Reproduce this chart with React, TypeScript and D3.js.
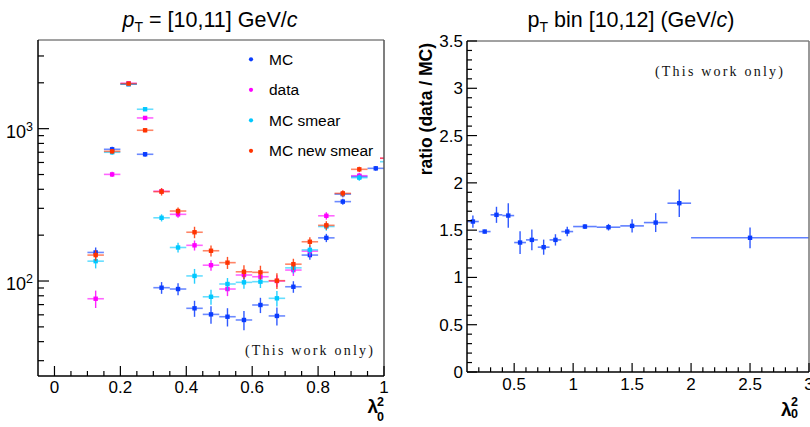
import React from "react";
import * as d3 from "d3";

// ---------- Left panel data ----------
const lambdaBins = [0.125, 0.175, 0.225, 0.275, 0.325, 0.375, 0.425, 0.475, 0.525, 0.575, 0.625, 0.675, 0.725, 0.775, 0.825, 0.875, 0.925, 0.975];
const mcVals = [154, 732, 1960, 679, 90.4, 88.6, 66.2, 60.4, 58.3, 55.5, 69.6, 59, 91.7, 148, 192, 332, 485, 549];
const mcErr = [12, 30, 40, 25, 8, 8, 8, 8, 8, 8, 8, 8, 8, 10, 12, 15, 20, 20];
const dataVals = [76.5, 501, 1985, 1176, 388, 274, 171.5, 127, 88.6, 109.5, 106.7, 100, 118, 157, 268, 372, 491, 639];
const dataErr = [10, 20, 30, 30, 15, 14, 13, 10, 9, 9, 9, 9, 10, 12, 15, 18, 22, 25];
const smearVals = [135, 700, 1960, 1341, 260, 166, 108, 78.8, 95.6, 98, 99, 77, 122, 160, 228, 372, 477, 607];
const smearErr = [14, 25, 40, 35, 14, 12, 12, 9, 9, 9, 9, 9, 10, 12, 14, 18, 22, 25];
const newSmearVals = [148, 710, 1975, 976, 386, 288, 209, 158, 132, 115, 114, 100.5, 129, 181, 232, 376, 541, 640];
const newSmearErr = [12, 25, 40, 30, 22, 16, 18, 13, 12, 12, 12, 12, 11, 13, 15, 18, 22, 25];
const leftBinHalf = 0.025;
const leftXTicks = [0, 0.2, 0.4, 0.6, 0.8, 1];
const legendLabels = ["MC", "data", "MC smear", "MC new smear"];

// ---------- Right panel data ----------
const ratioBinLo = [0.1, 0.2, 0.3, 0.4, 0.5, 0.6, 0.7, 0.8, 0.9, 1.0, 1.2, 1.4, 1.6, 1.8, 2.0];
const ratioBinHi = [0.2, 0.3, 0.4, 0.5, 0.6, 0.7, 0.8, 0.9, 1.0, 1.2, 1.4, 1.6, 1.8, 2.0, 3.0];
const ratioVals = [1.591, 1.485, 1.662, 1.654, 1.369, 1.397, 1.32, 1.397, 1.485, 1.538, 1.531, 1.545, 1.58, 1.785, 1.419];
const ratioErr = [0.065, 0.02, 0.085, 0.13, 0.12, 0.11, 0.08, 0.06, 0.05, 0.025, 0.035, 0.07, 0.1, 0.145, 0.11];
const rightXTicks = [0.5, 1, 1.5, 2, 2.5, 3];
const rightYTicks = [0, 0.5, 1, 1.5, 2, 2.5, 3, 3.5];

const COLORS = ["#0a3cff", "#ff00ff", "#00c8ff", "#ff3300"];
const SANS = "'Liberation Sans', Arial, Helvetica, sans-serif";
const SERIF = "'Liberation Serif', 'DejaVu Serif', serif";

export default function App() {
  // Left panel geometry
  const L = { x0: 38, x1: 384, y0: 40, y1: 376 };
  const xL = d3.scaleLinear().domain([-0.05, 1]).range([L.x0, L.x1]);
  const yL = d3.scaleLog().domain([23.8, 3819]).range([L.y1, L.y0]);

  // Right panel geometry
  const R = { x0: 467, x1: 809, y0: 41, y1: 372 };
  const xR = d3.scaleLinear().domain([0.1, 3]).range([R.x0, R.x1]);
  const yR = d3.scaleLinear().domain([0, 3.5]).range([R.y1, R.y0]);

  const series = [
    { vals: mcVals, err: mcErr },
    { vals: dataVals, err: dataErr },
    { vals: smearVals, err: smearErr },
    { vals: newSmearVals, err: newSmearErr },
  ];

  const leftXMinor = d3.range(0, 21).map((i) => i * 0.05).filter((v) => !leftXTicks.some((t) => Math.abs(t - v) < 1e-6));
  const logMinor: number[] = [];
  [10, 100, 1000].forEach((dec) => {
    for (let k = 2; k <= 9; k++) {
      const v = dec * k;
      if (v > 23.8 && v < 3819) logMinor.push(v);
    }
  });
  const rightXMinor = d3.range(1, 30).map((i) => +(0.1 + i * 0.1).toFixed(2)).filter((v) => v < 3 && !rightXTicks.some((t) => Math.abs(t - v) < 1e-6));
  const rightYMinor = d3.range(0, 36).map((i) => +(i * 0.1).toFixed(2)).filter((v) => !rightYTicks.some((t) => Math.abs(t - v) < 1e-6));

  return (
    <svg width={810} height={427} style={{ position: "absolute", left: 0, top: 0, background: "#fff" }} fontFamily={SANS}>
      <rect x={0} y={0} width={810} height={427} fill="#fff" />
      <defs>
        <clipPath id="clipL">
          <rect x={L.x0} y={L.y0} width={L.x1 - L.x0} height={L.y1 - L.y0} />
        </clipPath>
        <clipPath id="clipR">
          <rect x={R.x0} y={R.y0} width={R.x1 - R.x0} height={R.y1 - R.y0} />
        </clipPath>
      </defs>

      {/* ---------------- LEFT PANEL ---------------- */}
      <text x={210} y={27} fontSize={21.5} textAnchor="middle" fill="#000">
        <tspan fontStyle="italic">p</tspan>
        <tspan fontSize={14} dy={5}>T</tspan>
        <tspan dy={-5}> = [10,11] GeV/</tspan>
        <tspan fontStyle="italic">c</tspan>
      </text>

      <g clipPath="url(#clipL)">
        {series.map((s, si) => (
          <g key={si}>
            {lambdaBins.map((x, i) => {
              const cx = xL(x);
              const cy = yL(s.vals[i]);
              return (
                <g key={i}>
                  <line x1={xL(x - leftBinHalf)} x2={xL(x + leftBinHalf)} y1={cy} y2={cy} stroke={COLORS[si]} strokeWidth={1.6} strokeOpacity={0.6} />
                  <line x1={cx} x2={cx} y1={yL(s.vals[i] - s.err[i])} y2={yL(s.vals[i] + s.err[i])} stroke={COLORS[si]} strokeWidth={1.4} strokeOpacity={0.85} />
                  <rect x={cx - 2.2} y={cy - 2.2} width={4.4} height={4.4} fill={COLORS[si]} />
                </g>
              );
            })}
          </g>
        ))}
      </g>

      {/* legend (white box covering data) */}
      <rect x={245} y={44} width={135} height={122} fill="#fff" />
      {legendLabels.map((lab, i) => {
        const yy = 59.3 + i * 30.5;
        return (
          <g key={lab}>
            <circle cx={251} cy={yy} r={2.1} fill={COLORS[i]} />
            <text x={269} y={yy + 5.5} fontSize={15.5} fill="#000">{lab}</text>
          </g>
        );
      })}

      <text x={245} y={355} fontSize={14} fontFamily={SERIF} letterSpacing={2.2} fill="#111">(This work only)</text>

      {/* frame */}
      <line x1={L.x0} x2={L.x1} y1={L.y0} y2={L.y0} stroke="#444" strokeWidth={1} />
      <line x1={L.x1} x2={L.x1} y1={L.y0} y2={L.y1} stroke="#555" strokeWidth={1.5} />
      <line x1={L.x0} x2={L.x0} y1={L.y0} y2={L.y1} stroke="#000" strokeWidth={1.5} />
      <line x1={L.x0} x2={L.x1} y1={L.y1} y2={L.y1} stroke="#000" strokeWidth={1.5} />

      {/* left y ticks */}
      {[100, 1000].map((v) => (
        <line key={v} x1={L.x0} x2={L.x0 + 11} y1={yL(v)} y2={yL(v)} stroke="#000" strokeWidth={1.2} />
      ))}
      {logMinor.map((v) => (
        <line key={v} x1={L.x0} x2={L.x0 + 6} y1={yL(v)} y2={yL(v)} stroke="#000" strokeWidth={1.2} />
      ))}
      {[{ v: 100, e: "2" }, { v: 1000, e: "3" }].map((d) => (
        <text key={d.v} x={26} y={yL(d.v) + 9} fontSize={18} textAnchor="end" fill="#000">
          10
        </text>
      ))}
      {[{ v: 100, e: "2" }, { v: 1000, e: "3" }].map((d) => (
        <text key={"e" + d.v} x={26} y={yL(d.v) + 2} fontSize={12.5} fill="#000">
          {d.e}
        </text>
      ))}

      {/* left x ticks */}
      {leftXTicks.map((t) => (
        <g key={t}>
          <line x1={xL(t)} x2={xL(t)} y1={L.y1} y2={L.y1 - 10} stroke="#000" strokeWidth={1.2} />
          <text x={xL(t)} y={393} fontSize={17} textAnchor="middle" fill="#000">{String(t)}</text>
        </g>
      ))}
      {leftXMinor.map((t) => (
        <line key={t} x1={xL(t)} x2={xL(t)} y1={L.y1} y2={L.y1 - 5} stroke="#000" strokeWidth={1.2} />
      ))}

      <text x={367.5} y={413} fontSize={19} fontWeight="bold" fill="#000">λ</text>
      <text x={377} y={405.5} fontSize={12.5} fontWeight="bold" fill="#000">2</text>
      <text x={377} y={420.5} fontSize={12.5} fontWeight="bold" fill="#000">0</text>

      {/* ---------------- RIGHT PANEL ---------------- */}
      <text x={631} y={27} fontSize={21.5} textAnchor="middle" fill="#000">
        <tspan>p</tspan>
        <tspan fontSize={14} dy={5}>T</tspan>
        <tspan dy={-5}> bin [10,12] (GeV/</tspan>
        <tspan fontStyle="italic">c</tspan>
        <tspan>)</tspan>
      </text>

      <g clipPath="url(#clipR)">
        {ratioVals.map((v, i) => {
          const c = (ratioBinLo[i] + ratioBinHi[i]) / 2;
          const cx = xR(c);
          const cy = yR(v);
          return (
            <g key={i}>
              <line x1={xR(ratioBinLo[i])} x2={xR(ratioBinHi[i])} y1={cy} y2={cy} stroke={COLORS[0]} strokeWidth={1.6} strokeOpacity={0.65} />
              <line x1={cx} x2={cx} y1={yR(v - ratioErr[i])} y2={yR(v + ratioErr[i])} stroke={COLORS[0]} strokeWidth={1.4} strokeOpacity={0.85} />
              <rect x={cx - 2.2} y={cy - 2.2} width={4.4} height={4.4} fill={COLORS[0]} />
            </g>
          );
        })}
      </g>

      <text x={655} y={76} fontSize={14} fontFamily={SERIF} letterSpacing={2.2} fill="#111">(This work only)</text>

      <line x1={R.x0} x2={R.x1} y1={R.y0} y2={R.y0} stroke="#444" strokeWidth={1} />
      <line x1={R.x1} x2={R.x1} y1={R.y0} y2={R.y1} stroke="#777" strokeWidth={1.5} />
      <line x1={R.x0} x2={R.x0} y1={R.y0} y2={R.y1} stroke="#000" strokeWidth={1.5} />
      <line x1={R.x0} x2={R.x1} y1={R.y1} y2={R.y1} stroke="#000" strokeWidth={1.5} />

      {rightYTicks.map((t) => (
        <g key={t}>
          <line x1={R.x0} x2={R.x0 + 10} y1={yR(t)} y2={yR(t)} stroke="#000" strokeWidth={1.2} />
          <text x={463} y={yR(t) + 6} fontSize={17} textAnchor="end" fill="#000">{String(t)}</text>
        </g>
      ))}
      {rightYMinor.map((t) => (
        <line key={t} x1={R.x0} x2={R.x0 + 5} y1={yR(t)} y2={yR(t)} stroke="#000" strokeWidth={1.2} />
      ))}
      {rightXTicks.map((t) => (
        <g key={t}>
          <line x1={xR(t)} x2={xR(t)} y1={R.y1} y2={R.y1 - 9} stroke="#000" strokeWidth={1.2} />
          <text x={xR(t)} y={390} fontSize={17} textAnchor="middle" fill="#000">{String(t)}</text>
        </g>
      ))}
      {rightXMinor.map((t) => (
        <line key={t} x1={xR(t)} x2={xR(t)} y1={R.y1} y2={R.y1 - 4.7} stroke="#000" strokeWidth={1.2} />
      ))}

      <text transform="translate(432,43) rotate(-90)" fontSize={17.5} fontWeight="bold" textAnchor="end" fill="#000">
        ratio (data / MC)
      </text>

      <text x={781} y={416} fontSize={19} fontWeight="bold" fill="#000">λ</text>
      <text x={791} y={405.5} fontSize={12.5} fontWeight="bold" fill="#000">2</text>
      <text x={791} y={418} fontSize={12.5} fontWeight="bold" fill="#000">0</text>
    </svg>
  );
}
